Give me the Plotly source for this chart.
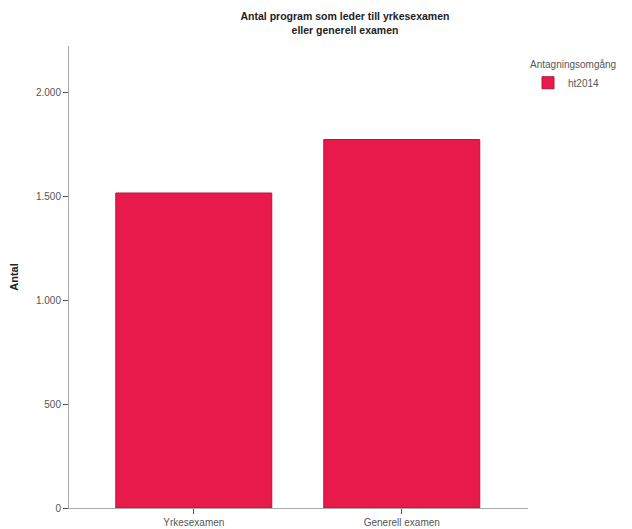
import plotly.graph_objects as go

categories = ["Yrkesexamen", "Generell examen"]
values = [1515, 1772]
series_name = "ht2014"
legend_title = "Antagningsomgång"
title_text = "Antal program som leder till yrkesexamen<br>eller generell examen"
y_title = "Antal"
y_ticks = [0, 500, 1000, 1500, 2000]

fig = go.Figure()
fig.add_trace(go.Bar(
    x=categories, y=values, name=series_name,
    marker=dict(color="#E8194B", line=dict(color="#B8143C", width=1)),
    width=0.75, showlegend=True,
))

fig.update_layout(
    width=632, height=529,
    margin=dict(l=61, r=112, t=38, b=29, autoexpand=False),
    paper_bgcolor="white", plot_bgcolor="white",
    font=dict(family="Liberation Sans, Arial, sans-serif", size=10, color="#555555"),
    separators=",.",
    title=dict(text="<b>" + title_text + "</b>", x=337/632, xanchor="center",
               y=1 - 12/529, yanchor="top", automargin=False,
               font=dict(size=10.5, color="#222222")),
    showlegend=True,
    legend=dict(x=1.0, xanchor="left", y=0.98, yanchor="top",
                title=dict(text=legend_title, side="top", font=dict(size=10, color="#555555")),
                font=dict(size=10, color="#555555"), bgcolor="rgba(0,0,0,0)"),
    xaxis=dict(range=[-0.6, 1.607], showline=True, linecolor="#AAAAAA", linewidth=1,
               ticks="outside", ticklen=5, tickcolor="#555555", showgrid=False,
               automargin=False,
               tickfont=dict(size=10, color="#555555"), fixedrange=True),
    yaxis=dict(range=[0, 2222], tickvals=y_ticks, tickformat=",d", showline=True,
               linecolor="#AAAAAA", linewidth=1, ticks="outside", ticklen=5,
               tickcolor="#555555", showgrid=False, zeroline=False, automargin=False,
               title=dict(text="<b>" + y_title + "</b>", font=dict(size=11, color="#222222"), standoff=15),
               tickfont=dict(size=10, color="#555555")),
)

fig.write_html("out.html")
